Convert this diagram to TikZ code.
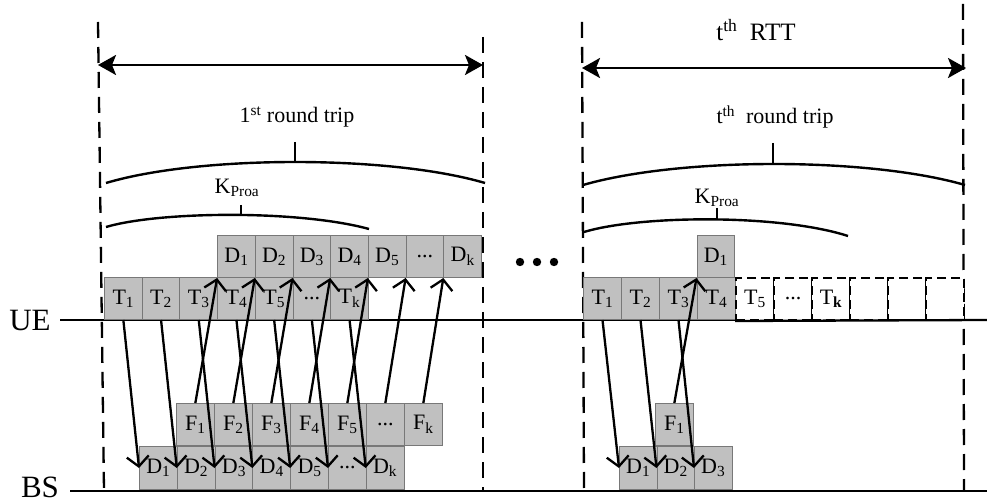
\documentclass[tikz,border=0pt]{standalone}
\usepackage{fontspec}
\setmainfont{Liberation Serif}
\usetikzlibrary{arrows.meta}
\definecolor{boxfill}{RGB}{192,192,192}
\definecolor{boxline}{RGB}{120,120,120}
\newcommand\sbx[2]{#1\textsubscript{#2}}
\begin{document}
\begin{tikzpicture}[x=1pt,y=-1pt,
  box/.style={draw=boxline, fill=boxfill, line width=1pt, minimum width=37.7pt, minimum height=42pt, inner sep=0pt, anchor=north west, font=\fontsize{22}{24}\selectfont},
  dbox/.style={draw=black, fill=white, line width=2pt, dash pattern=on 9pt off 5pt, minimum width=38pt, minimum height=42pt, inner sep=0pt, anchor=north west, font=\fontsize{22}{24}\selectfont},
  msg/.style={line width=2.3pt, -{Straight Barb[length=10pt,width=22pt]}},
  rtt/.style={line width=2.6pt, {Stealth[length=18pt,width=20pt,inset=4pt]}-{Stealth[length=18pt,width=20pt,inset=4pt]}},
  guide/.style={line width=2.3pt, dash pattern=on 16pt off 9pt},
  brace/.style={line width=2.4pt},
  lbl/.style={font=\fontsize{22}{24}\selectfont, inner sep=0pt},
  side/.style={font=\fontsize{31}{34}\selectfont, inner sep=0pt}
]
\useasboundingbox (0,0) rectangle (987,502);

% time lines
\coordinate (ueA) at (60,320); \coordinate (ueB) at (987,320);
\coordinate (bsA) at (70,491); \coordinate (bsB) at (987,491);
\draw[line width=2.3pt] (ueA) -- (ueB);
\draw[line width=2.3pt] (bsA) -- (bsB);
\node[side] (ue) at (30,321) {UE};
\node[side] (bs) at (40,487) {BS};

% guide lines
\coordinate (g1a) at (98,22);  \coordinate (g1b) at (104,491);
\coordinate (g2a) at (483,37); \coordinate (g2b) at (483,491);
\coordinate (g3a) at (582,22); \coordinate (g3b) at (584,491);
\coordinate (g4a) at (963,4);  \coordinate (g4b) at (964,491);
\draw[guide] (g1a) -- (g1b);
\draw[guide] (g2a) -- (g2b);
\draw[guide] (g3a) -- (g3b);
\draw[guide] (g4a) -- (g4b);

% RTT arrows
\coordinate (r1a) at (98,65); \coordinate (r1b) at (483,65);
\coordinate (r2a) at (582,68); \coordinate (r2b) at (966,68);
\draw[rtt] (r1a) -- (r1b);
\draw[rtt] (r2a) -- (r2b);
\node[lbl, font=\fontsize{25}{27}\selectfont] (rttlbl) at (756,30) {t\textsuperscript{th}\ \ RTT};

% round trip braces
\node[lbl] (rt1) at (297,117) {1\textsuperscript{st} round trip};
\draw[brace] (106,183) .. controls (200,155) and (390,155) .. (485,183);
\draw[brace] (295,142) -- (295,162);
\node[lbl] (rt2) at (775,117) {t\textsuperscript{th}\ \ round trip};
\draw[brace] (583,185) .. controls (680,157) and (868,157) .. (965,185);
\draw[brace] (773,143) -- (773,164);

\node[lbl] (kp1) at (237,188) {K\textsubscript{Proa}};
\draw[brace] (106,227) .. controls (160,211) and (300,210) .. (369,229);
\draw[brace] (241,205) -- (241,216);
\node[lbl] (kp2) at (717,198) {K\textsubscript{Proa}};
\draw[brace] (584,232) .. controls (640,215) and (780,214) .. (848,236);
\draw[brace] (717,208) -- (717,220);

% first round trip: UE boxes
\foreach \i/\lab in {1/{\sbx{T}{1}},2/{\sbx{T}{2}},3/{\sbx{T}{3}},4/{\sbx{T}{4}},5/{\sbx{T}{5}},6/{...},7/{\sbx{T}{k}}}
  \node[box] (uT\i) at ({104+(\i-1)*37.7},277) {\lab};
\foreach \i/\lab in {1/{\sbx{D}{1}},2/{\sbx{D}{2}},3/{\sbx{D}{3}},4/{\sbx{D}{4}},5/{\sbx{D}{5}},6/{...},7/{\sbx{D}{k}}}
  \node[box] (uD\i) at ({217.1+(\i-1)*37.7},235) {\lab};
% first round trip: BS boxes
\foreach \i/\lab in {1/{\sbx{F}{1}},2/{\sbx{F}{2}},3/{\sbx{F}{3}},4/{\sbx{F}{4}},5/{\sbx{F}{5}},6/{...},7/{\sbx{F}{k}}}
  \node[box] (bF\i) at ({176+(\i-1)*38},403) {\lab};
\foreach \i/\lab in {1/{\sbx{D}{1}},2/{\sbx{D}{2}},3/{\sbx{D}{3}},4/{\sbx{D}{4}},5/{\sbx{D}{5}},6/{...},7/{\sbx{D}{k}}}
  \node[box, minimum height=43pt] (bD\i) at ({139+(\i-1)*37.8},446) {\lab};

% t-th round trip
\foreach \i/\lab in {1/{\sbx{T}{1}},2/{\sbx{T}{2}},3/{\sbx{T}{3}},4/{\sbx{T}{4}}}
  \node[box, minimum width=38pt] (vT\i) at ({583+(\i-1)*38},277) {\lab};
\foreach \i/\lab in {5/{\sbx{T}{5}},6/{...},7/{\sbx{T}{\textbf{k}}},8/{},9/{},10/{}}
  \node[dbox] (vT\i) at ({583+(\i-1)*38},277) {\lab};
\node[box] (vD1) at (696.5,235) {\sbx{D}{1}};
\node[box] (wF1) at (655,403) {\sbx{F}{1}};
\foreach \i/\lab in {1/{\sbx{D}{1}},2/{\sbx{D}{2}},3/{\sbx{D}{3}}}
  \node[box, minimum width=37.5pt, minimum height=43pt] (wD\i) at ({619+(\i-1)*37.5},446) {\lab};
\draw[line width=2.3pt] (vT5.south west) -- (ueB);

% messages
\foreach \i in {1,...,7} {
  \draw[msg] (uT\i.south) -- (bD\i.west);
  \draw[msg] (bF\i.north) -- (uD\i.south west);
}
\foreach \i in {1,2,3}
  \draw[msg] (vT\i.south) -- (wD\i.west);
\draw[msg] (wF1.north) -- (vD1.south west);

% continuation dots
\foreach \x [count=\k] in {520,537,554}
  \fill (\x,262) circle[radius=4.2] coordinate (dot\k);
\end{tikzpicture}
\end{document}
